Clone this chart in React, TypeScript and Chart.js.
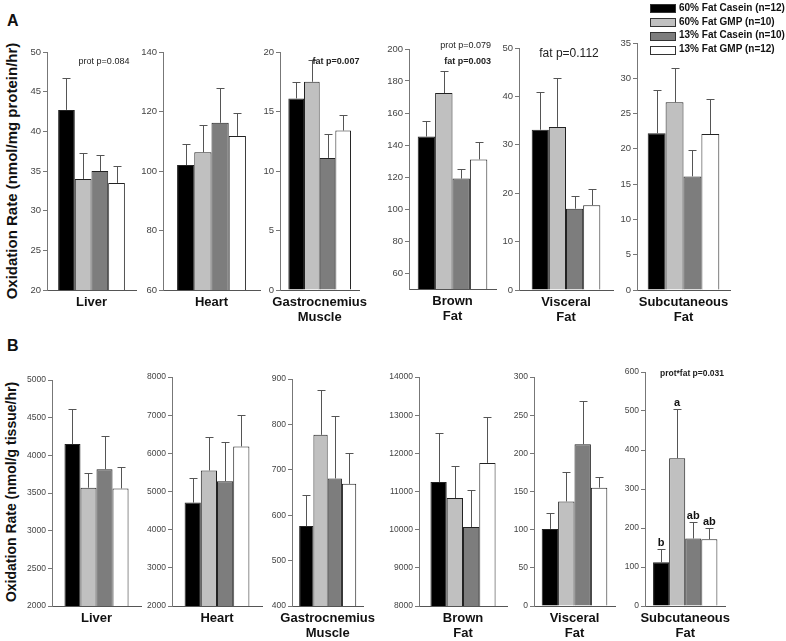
import React, { useEffect, useRef } from "react";
import { Chart, registerables } from "chart.js";
Chart.register(...registerables);

const FONT = "Arial, 'Liberation Sans', Helvetica, sans-serif";
Chart.defaults.font.family = FONT;

// ---------- data ----------
const groupLabels = ["60% Fat Casein (n=12)", "60% Fat GMP (n=10)", "13% Fat Casein (n=10)", "13% Fat GMP (n=12)"];
const tissueLabels = [["Liver"], ["Heart"], ["Gastrocnemius", "Muscle"], ["Brown", "Fat"], ["Visceral", "Fat"], ["Subcutaneous", "Fat"]];
const titleA = "Oxidation Rate (nmol/mg protein/hr)";
const titleB = "Oxidation Rate (nmol/g tissue/hr)";

// Panel A (nmol/mg protein/hr): means and SEM
const aLiver = [42.7, 34.0, 35.0, 33.5];
const aLiverSem = [4.0, 3.3, 2.0, 2.1];
const aHeart = [102.0, 106.3, 116.2, 111.8];
const aHeartSem = [7.2, 9.3, 11.7, 7.7];
const aGastro = [16.1, 17.5, 11.1, 13.4];
const aGastroSem = [1.4, 1.8, 2.0, 1.3];
const aBrown = [145.3, 172.5, 119.0, 131.0];
const aBrownSem = [9.9, 13.7, 6.0, 11.0];
const aVisceral = [33.1, 33.7, 16.8, 17.5];
const aVisceralSem = [7.9, 10.1, 2.6, 3.3];
const aSubcut = [22.2, 26.6, 16.1, 22.1];
const aSubcutSem = [6.1, 4.9, 3.8, 4.9];

// Panel B (nmol/g tissue/hr): means and SEM
const bLiver = [4150, 3570, 3815, 3560];
const bLiverSem = [470, 197, 443, 290];
const bHeart = [4710, 5550, 5270, 6180];
const bHeartSem = [650, 880, 1020, 820];
const bGastro = [576, 777, 681, 669];
const bGastroSem = [68, 98, 137, 69];
const bBrown = [11250, 10830, 10070, 11750];
const bBrownSem = [1280, 850, 980, 1200];
const bVisceral = [101, 137, 212, 155];
const bVisceralSem = [21, 39, 56, 14];
const bSubcut = [112, 379, 173, 171];
const bSubcutSem = [34, 127, 42, 29];
const bSubcutLetters = ["b", "a", "ab", "ab"];

// axis ranges and tick labels
const aLiverRange = [20, 50];
const aLiverTicks = [20, 25, 30, 35, 40, 45, 50];
const aHeartRange = [60, 140];
const aHeartTicks = [60, 80, 100, 120, 140];
const aGastroRange = [0, 20];
const aGastroTicks = [0, 5, 10, 15, 20];
const aBrownRange = [50, 200];
const aBrownTicks = [60, 80, 100, 120, 140, 160, 180, 200];
const aVisceralRange = [0, 50];
const aVisceralTicks = [0, 10, 20, 30, 40, 50];
const aSubcutRange = [0, 35];
const aSubcutTicks = [0, 5, 10, 15, 20, 25, 30, 35];

const bLiverRange = [2000, 5000];
const bLiverTicks = [2000, 2500, 3000, 3500, 4000, 4500, 5000];
const bHeartRange = [2000, 8000];
const bHeartTicks = [2000, 3000, 4000, 5000, 6000, 7000, 8000];
const bGastroRange = [400, 900];
const bGastroTicks = [400, 500, 600, 700, 800, 900];
const bBrownRange = [8000, 14000];
const bBrownTicks = [8000, 9000, 10000, 11000, 12000, 13000, 14000];
const bVisceralRange = [0, 300];
const bVisceralTicks = [0, 50, 100, 150, 200, 250, 300];
const bSubcutRange = [0, 600];
const bSubcutTicks = [0, 100, 200, 300, 400, 500, 600];

// ---------- styles / layout ----------
const barColors = ["#000000", "#c0c0c0", "#7d7d7d", "#ffffff"];
const YW = 40;
const PAD_T = 14;
const PAD_R = 12;
const XH = 40;

type Note = { text: string; bold: boolean; size: number; dx: number; dy: number; align: CanvasTextAlign };
type Box = { left: number; right: number; top: number; bottom: number; cat: number; tick: number };

const layoutA: Box[] = [
  { left: 47, right: 136, top: 52, bottom: 290, cat: 0.75, tick: 9.5 },
  { left: 163, right: 260, top: 52, bottom: 290, cat: 0.71, tick: 9.5 },
  { left: 280, right: 366, top: 52, bottom: 290, cat: 0.79, tick: 9.5 },
  { left: 409, right: 496, top: 49, bottom: 289, cat: 0.8, tick: 9.5 },
  { left: 519, right: 613, top: 48, bottom: 290, cat: 0.73, tick: 9.5 },
  { left: 637, right: 730, top: 43, bottom: 290, cat: 0.77, tick: 9.5 },
];
const layoutB: Box[] = [
  { left: 52, right: 141, top: 380, bottom: 606, cat: 0.72, tick: 8.5 },
  { left: 172, right: 262, top: 377, bottom: 606, cat: 0.72, tick: 8.5 },
  { left: 292, right: 374, top: 379, bottom: 606, cat: 0.8, tick: 8.5 },
  { left: 419, right: 507, top: 377, bottom: 606, cat: 0.74, tick: 8.5 },
  { left: 534, right: 615, top: 377, bottom: 606, cat: 0.81, tick: 8.5 },
  { left: 645, right: 729, top: 372, bottom: 606, cat: 0.8, tick: 8.5 },
];

const notesA: Note[][] = [
  [{ text: "prot p=0.084", bold: false, size: 9, dx: 57, dy: 10, align: "center" }],
  [],
  [{ text: "fat p=0.007", bold: true, size: 9, dx: 56, dy: 10, align: "center" }],
  [
    { text: "prot p=0.079", bold: false, size: 9, dx: 82, dy: -3, align: "right" },
    { text: "fat p=0.003", bold: true, size: 9, dx: 82, dy: 12.5, align: "right" },
  ],
  [{ text: "fat p=0.112", bold: false, size: 12, dx: 50, dy: 6, align: "center" }],
  [],
];
const notesB: Note[][] = [[], [], [], [], [], [{ text: "prot*fat p=0.031", bold: true, size: 8.5, dx: 47, dy: 2, align: "center" }]];

type Cfg = { tissue: string[]; values: number[]; sem: number[]; range: number[]; ticks: number[]; letters?: string[] };

const panelsA: Cfg[] = [
  { tissue: tissueLabels[0], values: aLiver, sem: aLiverSem, range: aLiverRange, ticks: aLiverTicks },
  { tissue: tissueLabels[1], values: aHeart, sem: aHeartSem, range: aHeartRange, ticks: aHeartTicks },
  { tissue: tissueLabels[2], values: aGastro, sem: aGastroSem, range: aGastroRange, ticks: aGastroTicks },
  { tissue: tissueLabels[3], values: aBrown, sem: aBrownSem, range: aBrownRange, ticks: aBrownTicks },
  { tissue: tissueLabels[4], values: aVisceral, sem: aVisceralSem, range: aVisceralRange, ticks: aVisceralTicks },
  { tissue: tissueLabels[5], values: aSubcut, sem: aSubcutSem, range: aSubcutRange, ticks: aSubcutTicks },
];
const panelsB: Cfg[] = [
  { tissue: tissueLabels[0], values: bLiver, sem: bLiverSem, range: bLiverRange, ticks: bLiverTicks },
  { tissue: tissueLabels[1], values: bHeart, sem: bHeartSem, range: bHeartRange, ticks: bHeartTicks },
  { tissue: tissueLabels[2], values: bGastro, sem: bGastroSem, range: bGastroRange, ticks: bGastroTicks },
  { tissue: tissueLabels[3], values: bBrown, sem: bBrownSem, range: bBrownRange, ticks: bBrownTicks },
  { tissue: tissueLabels[4], values: bVisceral, sem: bVisceralSem, range: bVisceralRange, ticks: bVisceralTicks },
  { tissue: tissueLabels[5], values: bSubcut, sem: bSubcutSem, range: bSubcutRange, ticks: bSubcutTicks, letters: bSubcutLetters },
];

function Panel({ cfg, box, notes }: { cfg: Cfg; box: Box; notes: Note[] }) {
  const ref = useRef<HTMLCanvasElement>(null);
  const w = YW + (box.right - box.left) + PAD_R;
  const h = PAD_T + (box.bottom - box.top) + XH;

  useEffect(() => {
    const errPlugin = {
      id: "errbars",
      afterDatasetsDraw(chart: any) {
        const ctx = chart.ctx;
        const y = chart.scales.y;
        ctx.save();
        ctx.strokeStyle = "#555";
        ctx.lineWidth = 1;
        chart.data.datasets.forEach((ds: any, i: number) => {
          const bar = chart.getDatasetMeta(i).data[0];
          const top = Math.round(y.getPixelForValue(ds.data[0] + cfg.sem[i])) + 0.5;
          const x = Math.round(bar.x) + 0.5;
          ctx.beginPath();
          ctx.moveTo(x, bar.y);
          ctx.lineTo(x, top);
          ctx.moveTo(x - 4, top);
          ctx.lineTo(x + 4, top);
          ctx.stroke();
          if (cfg.letters) {
            ctx.fillStyle = "#111";
            ctx.font = `bold 11px ${FONT}`;
            ctx.textAlign = "center";
            ctx.textBaseline = "middle";
            ctx.fillText(cfg.letters[i], bar.x, top - 7);
          }
        });
        ctx.restore();
      },
    };
    const notePlugin = {
      id: "notes",
      afterDraw(chart: any) {
        const ctx = chart.ctx;
        const a = chart.chartArea;
        ctx.save();
        notes.forEach((n) => {
          ctx.fillStyle = "#222";
          ctx.font = `${n.bold ? "bold " : ""}${n.size}px ${FONT}`;
          ctx.textAlign = n.align;
          ctx.textBaseline = "middle";
          ctx.fillText(n.text, a.left + n.dx, a.top + n.dy);
        });
        ctx.restore();
      },
    };
    const chart = new Chart(ref.current as HTMLCanvasElement, {
      type: "bar",
      data: {
        labels: [cfg.tissue],
        datasets: groupLabels.map((g, i) => ({
          label: g,
          data: [cfg.values[i]],
          backgroundColor: barColors[i],
          borderColor: "#222",
          borderWidth: 1,
          barPercentage: 1,
          categoryPercentage: box.cat,
        })),
      },
      options: {
        responsive: false,
        maintainAspectRatio: false,
        animation: false,
        devicePixelRatio: 1,
        layout: { padding: { top: PAD_T, right: PAD_R, left: 0, bottom: 0 } },
        plugins: { legend: { display: false }, tooltip: { enabled: false } },
        scales: {
          x: {
            type: "category",
            grid: { display: false, drawTicks: false },
            border: { display: true, color: "#555", width: 1 },
            ticks: {
              color: "#111",
              font: { family: FONT, size: 13, weight: "bold", lineHeight: 1.15 },
              padding: 5,
              maxRotation: 0,
              minRotation: 0,
              autoSkip: false,
            },
            afterFit: (s: any) => {
              s.height = XH;
            },
          },
          y: {
            min: cfg.range[0],
            max: cfg.range[1],
            afterBuildTicks: (s: any) => {
              s.ticks = cfg.ticks.map((v) => ({ value: v }));
            },
            grid: { drawOnChartArea: false, drawTicks: true, tickLength: 4, color: "#777" },
            border: { display: true, color: "#777", width: 1 },
            ticks: {
              color: "#444",
              font: { family: FONT, size: box.tick },
              padding: 2,
              callback: (v: any) => String(v),
            },
            afterFit: (s: any) => {
              s.width = YW;
            },
          },
        },
      } as any,
      plugins: [errPlugin, notePlugin],
    });
    return () => chart.destroy();
  }, []);

  return (
    <div style={{ position: "absolute", left: box.left - YW, top: box.top - PAD_T, width: w, height: h }}>
      <canvas ref={ref} width={w} height={h} style={{ width: w, height: h, display: "block" }} />
    </div>
  );
}

function RotTitle({ text, cx, cy, size }: { text: string; cx: number; cy: number; size: number }) {
  return (
    <div
      style={{
        position: "absolute",
        left: cx,
        top: cy,
        transform: "translate(-50%, -50%) rotate(-90deg)",
        whiteSpace: "nowrap",
        font: `bold ${size}px ${FONT}`,
        color: "#111",
      }}
    >
      {text}
    </div>
  );
}

export default function App() {
  const legendRows = [8.5, 22.5, 36.3, 50];
  return (
    <div style={{ position: "absolute", left: 0, top: 0, width: 786, height: 641, background: "#fff", overflow: "hidden" }}>
      <div style={{ position: "absolute", left: 7, top: 12, font: `bold 16px ${FONT}`, color: "#111" }}>A</div>
      <div style={{ position: "absolute", left: 7, top: 337, font: `bold 16px ${FONT}`, color: "#111" }}>B</div>
      <RotTitle text={titleA} cx={11} cy={171} size={15} />
      <RotTitle text={titleB} cx={11} cy={492} size={14} />
      {panelsA.map((p, i) => (
        <Panel key={"a" + i} cfg={p} box={layoutA[i]} notes={notesA[i]} />
      ))}
      {panelsB.map((p, i) => (
        <Panel key={"b" + i} cfg={p} box={layoutB[i]} notes={notesB[i]} />
      ))}
      {groupLabels.map((g, i) => (
        <div key={g}>
          <div
            style={{
              position: "absolute",
              left: 650,
              top: legendRows[i] - 4.5,
              width: 26,
              height: 9,
              boxSizing: "border-box",
              border: "1px solid #333",
              background: barColors[i],
            }}
          />
          <div
            style={{
              position: "absolute",
              left: 679,
              top: legendRows[i] - 7,
              height: 14,
              lineHeight: "14px",
              whiteSpace: "nowrap",
              font: `bold 10px ${FONT}`,
              color: "#111",
            }}
          >
            {g}
          </div>
        </div>
      ))}
    </div>
  );
}
